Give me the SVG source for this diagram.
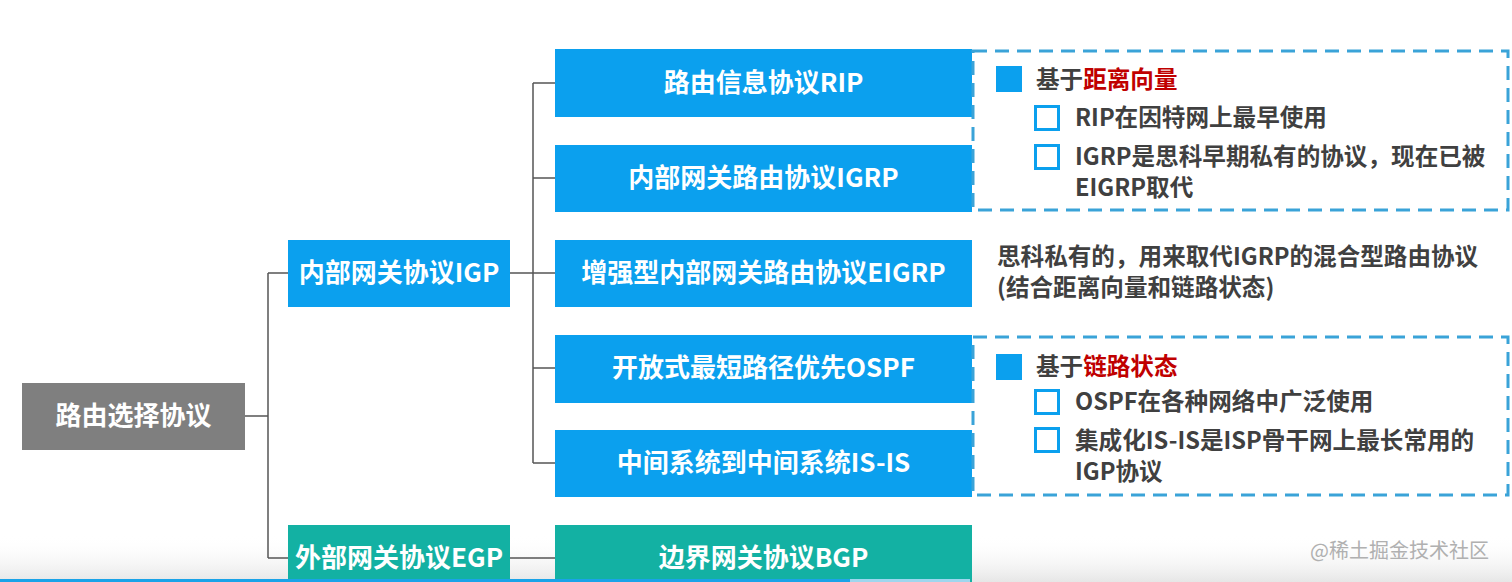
<svg xmlns="http://www.w3.org/2000/svg" width="1512" height="582" viewBox="0 0 1512 582">
<defs>
<style>
.t{font-family:"Noto Sans CJK SC","Noto Sans",sans-serif;font-weight:bold}
.bx{font-size:26px;fill:#ffffff;text-anchor:middle}
.blue{fill:#0ba0ee}
.teal{fill:#13b1a3}
.gray{fill:#7f7f7f}
.note{font-size:23.6px;fill:#404040}
.red{fill:#c00000}
.con{fill:none;stroke:#555555;stroke-width:1.5}
.dash{fill:none;stroke:#3aa3d8;stroke-width:3;stroke-dasharray:14 8}
.sq{fill:#0ba0ee}
.hs{fill:none;stroke:#0ba0ee;stroke-width:3}
</style>
<linearGradient id="shade" x1="0" y1="0" x2="0" y2="1">
<stop offset="0" stop-color="#ffffff" stop-opacity="0"/>
<stop offset="1" stop-color="#e6e6e6" stop-opacity="1"/>
</linearGradient>
</defs>
<rect x="0" y="0" width="1512" height="582" fill="#ffffff"/>
<rect x="0" y="535" width="1512" height="47" fill="url(#shade)"/>

<g id="connectors">
<path class="con" d="M245 416 H268 M268 273 V558 M268 273 H288 M268 558 H288"/>
<path class="con" d="M510 273 H533 M533 83 V463 M533 83 H555 M533 178 H555 M533 273 H555 M533 368 H555 M533 463 H555"/>
<path class="con" d="M510 558 H555"/>
</g>

<g id="root">
<rect class="gray" x="22" y="383" width="223" height="67"/>
<text class="t bx" x="133.5" y="425">路由选择协议</text>
</g>
<g id="igp">
<rect class="blue" x="288" y="240" width="222" height="67"/>
<text class="t bx" x="399" y="282">内部网关协议IGP</text>
</g>
<g id="egp">
<rect class="teal" x="288" y="525" width="222" height="60"/>
<text class="t bx" x="399" y="567">外部网关协议EGP</text>
</g>
<g id="rip">
<rect class="blue" x="555" y="49" width="417" height="68"/>
<text class="t bx" x="763.5" y="92">路由信息协议RIP</text>
</g>
<g id="igrp">
<rect class="blue" x="555" y="145" width="417" height="67"/>
<text class="t bx" x="763.5" y="187">内部网关路由协议IGRP</text>
</g>
<g id="eigrp">
<rect class="blue" x="555" y="240" width="417" height="67"/>
<text class="t bx" x="763.5" y="282">增强型内部网关路由协议EIGRP</text>
</g>
<g id="ospf">
<rect class="blue" x="555" y="335" width="417" height="68"/>
<text class="t bx" x="763.5" y="377">开放式最短路径优先OSPF</text>
</g>
<g id="isis">
<rect class="blue" x="555" y="430" width="417" height="67"/>
<text class="t bx" x="763.5" y="472">中间系统到中间系统IS-IS</text>
</g>
<g id="bgp">
<rect class="teal" x="555" y="525" width="417" height="60"/>
<text class="t bx" x="763.5" y="567">边界网关协议BGP</text>
</g>

<g id="dv-note">
<rect class="dash" x="973" y="51" width="535" height="159"/>
<rect class="sq" x="996" y="66" width="26" height="26"/>
<text class="t note" x="1036" y="88">基于<tspan class="red">距离向量</tspan></text>
<rect class="hs" x="1035.5" y="106.5" width="23" height="23"/>
<text class="t note" x="1075" y="126">RIP在因特网上最早使用</text>
<rect class="hs" x="1035.5" y="145.5" width="23" height="23"/>
<text class="t note" x="1075" y="165">IGRP是思科早期私有的协议，现在已被</text>
<text class="t note" x="1075" y="196">EIGRP取代</text>
</g>

<g id="eigrp-note">
<text class="t note" x="997" y="265">思科私有的，用来取代IGRP的混合型路由协议</text>
<text class="t note" x="997" y="296">(结合距离向量和链路状态)</text>
</g>

<g id="ls-note">
<rect class="dash" x="973" y="337" width="535" height="158"/>
<rect class="sq" x="996" y="354" width="26" height="26"/>
<text class="t note" x="1036" y="375">基于<tspan class="red">链路状态</tspan></text>
<rect class="hs" x="1035.5" y="390.5" width="23" height="23"/>
<text class="t note" x="1075" y="410">OSPF在各种网络中广泛使用</text>
<rect class="hs" x="1035.5" y="428.5" width="23" height="23"/>
<text class="t note" x="1075" y="449">集成化IS-IS是ISP骨干网上最长常用的</text>
<text class="t note" x="1075" y="480">IGP协议</text>
</g>

<text x="1310" y="558" font-family="Noto Sans CJK SC, sans-serif" font-size="20" fill="#b0b0b0">@稀土掘金技术社区</text>
<rect x="0" y="579" width="850" height="3" fill="#1aa3e8"/>
<rect x="850" y="579" width="120" height="3" fill="#9fd6ee"/>
</svg>
